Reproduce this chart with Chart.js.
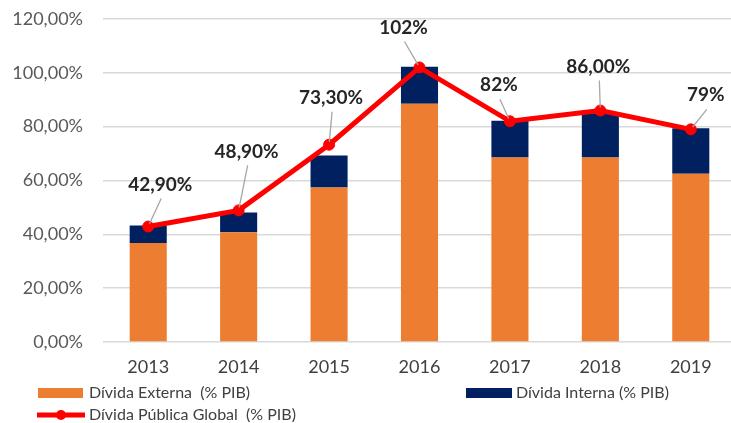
<!DOCTYPE html>
<html>
<head>
<meta charset="utf-8">
<script src="https://cdn.jsdelivr.net/npm/chart.js@4.4.1/dist/chart.umd.min.js"></script>
<style>
  html, body { margin: 0; padding: 0; background: #fff; overflow: hidden; }
  #wrap { width: 736px; height: 423px; }
</style>
</head>
<body>
<div id="wrap"><canvas id="chart" width="736" height="423"></canvas></div>
<script>
// values (% do PIB)
const years = ['2013', '2014', '2015', '2016', '2017', '2018', '2019'];
const dividaExterna = [36.8, 40.8, 57.4, 88.5, 68.5, 68.5, 62.5];
const dividaInterna = [6.5, 7.3, 11.9, 13.8, 13.7, 16.5, 16.9];
const dividaGlobal = [42.9, 48.9, 73.3, 102, 82, 86, 79];
const globalLabels = ['42,90%', '48,90%', '73,30%', '102%', '82%', '86,00%', '79%'];

// where each value label sits relative to its point (px)
const labelOffsets = [[12, -42], [8, -59], [2, -47], [-16, -40], [-11, -36], [-2, -44], [15, -34]];

const FONT = "Lato, 'Noto Sans', sans-serif";

// value labels with leader lines
const labelPlugin = {
    id: 'valueLabels',
    afterDatasetsDraw(chart) {
        const ctx = chart.ctx;
        const meta = chart.getDatasetMeta(0);
        ctx.save();
        meta.data.forEach((pt, i) => {
            const lx = pt.x + labelOffsets[i][0];
            const ly = pt.y + labelOffsets[i][1];
            // leader line
            ctx.strokeStyle = '#a6a6a6';
            ctx.lineWidth = 1.3;
            ctx.beginPath();
            ctx.moveTo(lx + 1, ly + 14);
            const dx = pt.x - (lx + 1), dy = pt.y - (ly + 14);
            const len = Math.sqrt(dx * dx + dy * dy);
            ctx.lineTo(pt.x - dx / len * 3, pt.y - dy / len * 3);
            ctx.stroke();
            ctx.fillStyle = '#262626';
            ctx.font = 'bold 19px ' + FONT;
            ctx.textAlign = 'center';
            ctx.textBaseline = 'middle';
            ctx.fillText(globalLabels[i], lx, ly);
        });
        ctx.restore();
    }
};

// legend laid out like the original
const legendPlugin = {
    id: 'customLegend',
    afterDraw(chart) {
        const ctx = chart.ctx;
        const ds = chart.data.datasets;
        ctx.save();
        ctx.font = '16px ' + FONT;
        ctx.textBaseline = 'middle';
        ctx.textAlign = 'left';
        // Dívida Externa
        ctx.fillStyle = ds[1].backgroundColor;
        ctx.fillRect(38, 388, 45, 10);
        ctx.fillStyle = '#404040';
        ctx.fillText(ds[1].label, 89, 393);
        // Dívida Interna
        ctx.fillStyle = ds[2].backgroundColor;
        ctx.fillRect(466, 388, 46, 10);
        ctx.fillStyle = '#404040';
        ctx.fillText(ds[2].label, 516, 393);
        // Dívida Pública Global
        ctx.strokeStyle = ds[0].borderColor;
        ctx.lineWidth = 5;
        ctx.beginPath();
        ctx.moveTo(37, 415);
        ctx.lineTo(85, 415);
        ctx.stroke();
        ctx.fillStyle = ds[0].borderColor;
        ctx.beginPath();
        ctx.arc(61, 415, 5, 0, Math.PI * 2);
        ctx.fill();
        ctx.fillStyle = '#404040';
        ctx.fillText(ds[0].label, 89, 415);
        ctx.restore();
    }
};

const ctx = document.getElementById('chart').getContext('2d');
new Chart(ctx, {
    data: {
        labels: years,
        datasets: [
            {
                type: 'line',
                label: 'Dívida Pública Global  (% PIB)',
                data: dividaGlobal,
                borderColor: '#FF0000',
                backgroundColor: '#FF0000',
                borderWidth: 5,
                pointRadius: 5.5,
                pointBackgroundColor: '#FF0000',
                pointBorderColor: '#FF0000',
                pointBorderWidth: 1,
                tension: 0,
                stack: 'line',
                order: 0
            },
            {
                type: 'bar',
                label: 'Dívida Externa  (% PIB)',
                data: dividaExterna,
                backgroundColor: '#ED7D31',
                stack: 'bars',
                order: 1
            },
            {
                type: 'bar',
                label: 'Dívida Interna (% PIB)',
                data: dividaInterna,
                backgroundColor: '#002060',
                stack: 'bars',
                order: 1
            }
        ]
    },
    options: {
        responsive: false,
        animation: false,
        layout: { autoPadding: false, padding: { top: 19, left: 0, right: 0, bottom: 46 } },
        datasets: {
            bar: { barPercentage: 0.41, categoryPercentage: 1 }
        },
        plugins: {
            legend: { display: false },
            tooltip: { enabled: false }
        },
        scales: {
            x: {
                stacked: true,
                grid: { display: false, tickLength: 14 },
                border: { display: false },
                ticks: {
                    color: '#404040',
                    font: { family: FONT, size: 18 },
                    padding: 0
                },
                afterFit(scale) { scale.height = 35; }
            },
            y: {
                stacked: true,
                min: 0,
                max: 120,
                grid: { color: '#d9d9d9', lineWidth: 1.5, drawTicks: true, tickLength: 20, tickColor: 'rgba(0,0,0,0)' },
                border: { display: false },
                ticks: {
                    stepSize: 20,
                    color: '#595959',
                    padding: 0,
                    font: { family: FONT, size: 18 },
                    callback: v => v.toFixed(2).replace('.', ',') + '%'
                },
                afterFit(scale) { scale.width = 103; }
            }
        }
    },
    plugins: [labelPlugin, legendPlugin]
});
</script>
</body>
</html>
